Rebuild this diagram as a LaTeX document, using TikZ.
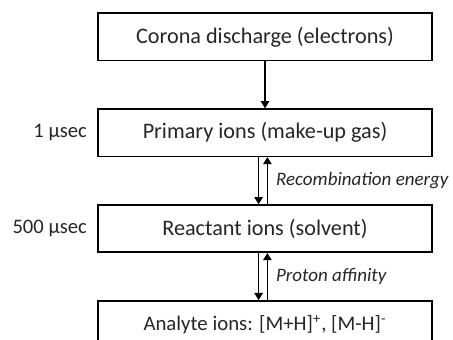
\documentclass[tikz,border=0pt]{standalone}
\usepackage{fontspec}
\setmainfont{Carlito}
\usepackage{tikz}
\usetikzlibrary{arrows.meta,positioning,calc}
\tikzstyle{line} = [draw, -{Triangle[width=4.2pt,length=3.6pt]}, line width=.75pt, fill=none]

\begin{document}
\begin{tikzpicture}[
    font=\fontsize{11.1}{13}\selectfont,
    text=black!85,
    stage/.style={
      draw,
      line width=.75pt,
      minimum width=167pt,
      minimum height=23.6pt,
      fill=white,
      align=center
    },
    timing/.style={
      font=\fontsize{10.3}{12}\selectfont,
      inner sep=1pt
    },
    energy/.style={
      font=\fontsize{9.5}{11}\selectfont\itshape,
      inner sep=1pt
    }
  ]

  \useasboundingbox (0,0) rectangle (226.5pt,-170pt);
  \clip (0,0) rectangle (226.5pt,-170pt);

  \node[stage] at (132.5pt,-18.4pt) (corona) {Corona discharge (electrons)};
  \node[stage,below=23.6pt of corona] (primary) {Primary ions (make-up gas)};
  \node[stage,below=23.6pt of primary] (reactant) {Reactant ions (solvent)};
  \node[stage,below=23.6pt of reactant,font=\fontsize{10.4}{12}\selectfont] (analyte)
    {Analyte ions: [M+H]\textsuperscript{+}, [M-H]\textsuperscript{-}};

  \node[timing,left=4pt of primary] (tprimary) {1 µsec};
  \node[timing,left=4pt of reactant] (treactant) {500 µsec};

  \draw[line] (corona) -- (primary);

  \draw[line] ([xshift=-3.2pt]primary.south) -- ([xshift=-3.2pt]reactant.north);
  \draw[line] ([xshift=1.2pt]reactant.north) -- ([xshift=1.2pt]primary.south)
    node[energy,midway,right=3pt] (recomb) {Recombination energy};

  \draw[line] ([xshift=-3.2pt]reactant.south) -- ([xshift=-3.2pt]analyte.north);
  \draw[line] ([xshift=1.2pt]analyte.north) -- ([xshift=1.2pt]reactant.south)
    node[energy,midway,right=3pt] (affinity) {Proton affinity};

\end{tikzpicture}
\end{document}
